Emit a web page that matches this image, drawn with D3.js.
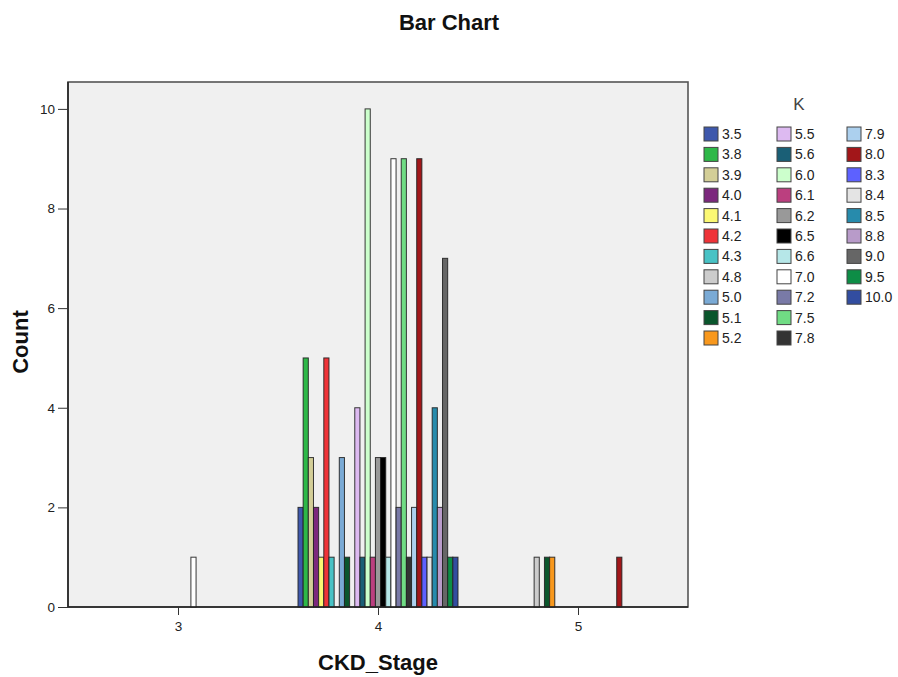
<!DOCTYPE html>
<html>
<head>
<meta charset="utf-8">
<script src="https://cdn.jsdelivr.net/npm/d3@7"></script>
<style>
  html, body { margin: 0; padding: 0; background: #fff; }
  svg { display: block; font-family: "Liberation Sans", Arial, sans-serif; }
</style>
</head>
<body>
<svg id="chart" width="898" height="677"></svg>
<script>
// CKD stage clusters on the x axis
const stages = [3, 4, 5];
// Serum potassium (K) groups, one bar slot each inside a cluster
const kLevels = ["3.5","3.8","3.9","4.0","4.1","4.2","4.3","4.8","5.0","5.1","5.2",
                 "5.5","5.6","6.0","6.1","6.2","6.5","6.6","7.0","7.2","7.5","7.8",
                 "7.9","8.0","8.3","8.4","8.5","8.8","9.0","9.5","10.0"];
const kColors = ["#3e58ac","#2eb848","#d3ce97","#7c287d","#fbf873","#ef3338","#48c2c5",
                 "#cccccc","#7aaad5","#0a562c","#f8981d","#ddbaf1","#1a5f76","#ccffcc",
                 "#bb3f7f","#999999","#000000","#b6e7e8","#ffffff","#797aa7","#70dc84",
                 "#333333","#acd0ee","#a21619","#5d61ff","#e4e4e4","#278bac","#b89bc9",
                 "#666666","#0d8d46","#324da0"];
// Counts per K level, one array per stage (same order as kLevels)
const countsStage3 = [0,0,0,0,0,0,0,0,0,0,0, 0,0,0,0,0,0,0,1,0,0,0, 0,0,0,0,0,0,0,0,0];
const countsStage4 = [2,5,3,2,1,5,1,0,3,1,0, 4,1,10,1,3,3,1,9,2,9,1, 2,9,1,1,4,2,7,1,1];
const countsStage5 = [0,0,0,0,0,0,0,1,0,1,1, 0,0,0,0,0,0,0,0,0,0,0, 0,1,0,0,0,0,0,0,0];
const yTicks = [0, 2, 4, 6, 8, 10];
const xTicks = [3, 4, 5];

const counts = [countsStage3, countsStage4, countsStage5];
const bars = [];
stages.forEach((s, si) => {
  kLevels.forEach((k, ki) => {
    if (counts[si][ki] > 0) bars.push({ stage: s, k, ki, value: counts[si][ki] });
  });
});

const svg = d3.select("#chart");
const plot = { left: 68, right: 688, top: 82, bottom: 607 };

const x = d3.scaleLinear().domain([2.45, 5.55]).range([plot.left, plot.right]);
const y = d3.scaleLinear().domain([0, 10.54]).range([plot.bottom, plot.top]);

// cluster spans 0.8 x-units, split evenly among the K levels
const slot = 0.8 / kLevels.length;
const slotPx = x(slot) - x(0);
const color = d3.scaleOrdinal().domain(kLevels).range(kColors);

// Title
svg.append("text")
  .attr("x", 449).attr("y", 30)
  .attr("text-anchor", "middle")
  .attr("font-size", 22).attr("font-weight", "bold").attr("fill", "#111")
  .text("Bar Chart");

// Plot background
svg.append("rect")
  .attr("x", plot.left).attr("y", plot.top)
  .attr("width", plot.right - plot.left).attr("height", plot.bottom - plot.top)
  .attr("fill", "#f0f0f0").attr("stroke", "#555").attr("stroke-width", 1.6);

// Bars
svg.append("g").selectAll("rect")
  .data(bars)
  .join("rect")
  .attr("x", d => x(d.stage + (d.ki - (kLevels.length - 1) / 2) * slot) - slotPx / 2)
  .attr("width", slotPx)
  .attr("y", d => y(d.value))
  .attr("height", d => y(0) - y(d.value))
  .attr("fill", d => color(d.k))
  .attr("stroke", "#222")
  .attr("stroke-opacity", 0.9)
  .attr("stroke-width", 1);

// Y axis
const yAxis = svg.append("g")
  .attr("transform", `translate(${plot.left},0)`)
  .call(d3.axisLeft(y).tickValues(yTicks).tickSize(10).tickPadding(3).tickFormat(d3.format("d")));
yAxis.select(".domain").attr("stroke", "#222").attr("stroke-width", 1.5)
  .attr("d", `M0,${plot.bottom}V${plot.top}`);
yAxis.selectAll(".tick line").attr("stroke", "#333");
yAxis.selectAll(".tick text").attr("font-size", 13.5).attr("fill", "#222")
  .attr("font-family", "Liberation Sans, Arial, sans-serif");

// X axis
const xAxis = svg.append("g")
  .attr("transform", `translate(0,${plot.bottom})`)
  .call(d3.axisBottom(x).tickValues(xTicks).tickSize(8).tickPadding(6).tickFormat(d3.format("d")));
xAxis.select(".domain").attr("stroke", "#222").attr("stroke-width", 1.5)
  .attr("d", `M${plot.left},0H${plot.right}`);
xAxis.selectAll(".tick line").attr("stroke", "#333");
xAxis.selectAll(".tick text").attr("font-size", 13.5).attr("fill", "#222")
  .attr("font-family", "Liberation Sans, Arial, sans-serif");

// Axis titles
svg.append("text")
  .attr("x", 378).attr("y", 670)
  .attr("text-anchor", "middle")
  .attr("font-size", 22).attr("font-weight", "bold").attr("fill", "#111")
  .text("CKD_Stage");
svg.append("text")
  .attr("transform", "translate(28,342) rotate(-90)")
  .attr("text-anchor", "middle")
  .attr("font-size", 22).attr("font-weight", "bold").attr("fill", "#111")
  .text("Count");

// Legend
const legend = svg.append("g");
legend.append("text")
  .attr("x", 799).attr("y", 110)
  .attr("text-anchor", "middle")
  .attr("font-size", 17).attr("fill", "#444")
  .text("K");
const colX = [704, 777, 847];
const perCol = 11;
const items = legend.selectAll("g.item")
  .data(kLevels)
  .join("g")
  .attr("class", "item")
  .attr("transform", (d, i) => `translate(${colX[Math.floor(i / perCol)]},${127 + (i % perCol) * 20.4})`);
items.append("rect")
  .attr("width", 14).attr("height", 14)
  .attr("fill", d => color(d))
  .attr("stroke", "#444").attr("stroke-width", 1);
items.append("text")
  .attr("x", 18).attr("y", 12)
  .attr("font-size", 14).attr("fill", "#222")
  .text(d => d);
</script>
</body>
</html>
